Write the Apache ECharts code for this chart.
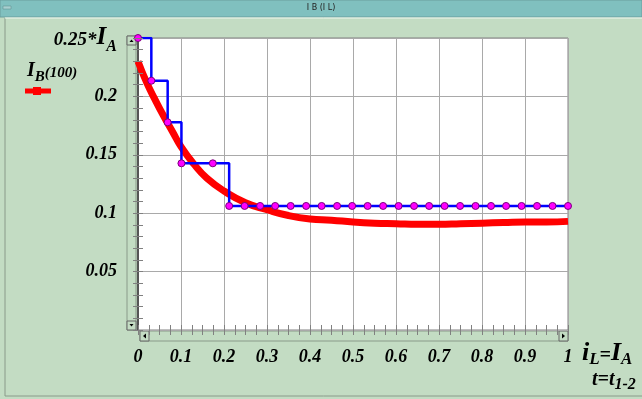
<!DOCTYPE html>
<html>
<head>
<meta charset="utf-8">
<script src="https://cdn.jsdelivr.net/npm/echarts@6/dist/echarts.min.js"></script>
<style>
  html, body { margin: 0; padding: 0; background: #c3dcc3; }
  #chart { width: 642px; height: 399px; }
</style>
</head>
<body>
<div id="chart"></div>
<script>
// step series (blue with magenta dots)
const stepX = [0, 0.031, 0.069, 0.101, 0.174, 0.212, 0.248, 0.284, 0.319, 0.355, 0.391, 0.427,
    0.463, 0.498, 0.534, 0.570, 0.606, 0.642, 0.677, 0.713, 0.749, 0.785, 0.821, 0.856,
    0.892, 0.928, 0.964, 1.0];
const stepY = [0.25, 0.2134, 0.1778, 0.1427, 0.1427, 0.1062, 0.1062, 0.1062, 0.1062, 0.1062,
    0.1062, 0.1062, 0.1062, 0.1062, 0.1062, 0.1062, 0.1062, 0.1062, 0.1062, 0.1062, 0.1062,
    0.1062, 0.1062, 0.1062, 0.1062, 0.1062, 0.1062, 0.1062];

// IB(100) curve (red)
const curveX = [0, 0.02, 0.04, 0.06, 0.08, 0.1, 0.13, 0.16, 0.2, 0.25, 0.3, 0.35, 0.4, 0.45,
    0.5, 0.55, 0.6, 0.65, 0.7, 0.75, 0.8, 0.85, 0.9, 0.95, 1.0];
const curveY = [0.230, 0.212, 0.197, 0.183, 0.170, 0.157, 0.142, 0.130, 0.119, 0.109, 0.103,
    0.098, 0.095, 0.094, 0.0925, 0.0915, 0.091, 0.0905, 0.0905, 0.091, 0.0915, 0.092, 0.0925,
    0.0925, 0.093];

const xTicks = ['0', '0.1', '0.2', '0.3', '0.4', '0.5', '0.6', '0.7', '0.8', '0.9', '1'];
const yTicks = ['', '0.05', '0.1', '0.15', '0.2', '0.25*'];

const serif = '"Liberation Serif", "DejaVu Serif", serif';
const bg = '#c3dcc3';
const gridGrey = '#a9a9a9';

const chart = echarts.init(document.getElementById('chart'));

const labelStyle = {
    fontFamily: serif, fontStyle: 'italic', fontWeight: 'bold', fontSize: 18, color: '#000'
};

// axes that only carry inward tick marks on each side of the plot box
function tickAxis(kind, position, max, interval, split) {
    return {
        type: 'value', min: 0, max: max, interval: interval, position: position,
        axisLine: { show: false },
        axisTick: { show: true, inside: true, length: 5, lineStyle: { color: '#808080' } },
        minorTick: { show: true, splitNumber: split, length: 5, lineStyle: { color: '#808080' } },
        splitLine: { show: false },
        axisLabel: { show: false },
        z: 5
    };
}

chart.setOption({
    backgroundColor: bg,
    animation: false,
    grid: {
        left: 138, right: 74, top: 38, bottom: 69,
        show: true, backgroundColor: '#fff', borderColor: '#808080', borderWidth: 1
    },
    xAxis: [{
        type: 'value', min: 0, max: 1, interval: 0.1,
        axisLine: { show: false },
        axisTick: { show: false },
        splitLine: { show: true, lineStyle: { color: gridGrey, width: 1 } },
        axisLabel: {
            margin: 18, ...labelStyle,
            formatter: v => xTicks[Math.round(v * 10)]
        }
    },
        tickAxis('x', 'top', 1, 0.1, 4),
        tickAxis('x', 'bottom', 1, 0.1, 4)
    ],
    yAxis: [{
        type: 'value', min: 0, max: 0.25, interval: 0.05,
        axisLine: { show: true, lineStyle: { color: '#555', width: 2 } },
        axisTick: { show: false },
        splitLine: { show: true, lineStyle: { color: gridGrey, width: 1 } },
        axisLabel: {
            margin: 21, ...labelStyle,
            formatter: v => {
                const i = Math.round(v / 0.05);
                if (i === 5) return '{a|' + yTicks[i] + '}{b|I}{s|A}';
                return yTicks[i];
            },
            rich: {
                a: { ...labelStyle, fontSize: 19, verticalAlign: 'bottom', lineHeight: 24 },
                b: { ...labelStyle, fontSize: 25, verticalAlign: 'bottom', lineHeight: 24 },
                s: { ...labelStyle, fontSize: 16, verticalAlign: 'bottom', lineHeight: 16, padding: [0, 0, -5, 0] }
            }
        }
    },
        tickAxis('y', 'left', 0.25, 0.05, 5),
        tickAxis('y', 'right', 0.25, 0.05, 5)
    ],
    series: [{
        name: 'IB(100)',
        type: 'line',
        data: curveX.map((x, i) => [x, curveY[i]]),
        smooth: true,
        showSymbol: false,
        lineStyle: { color: '#ff0000', width: 7 },
        z: 2
    }, {
        name: 'step',
        type: 'line',
        step: 'end',
        data: stepX.map((x, i) => [x, stepY[i]]),
        symbol: 'circle',
        symbolSize: 7,
        lineStyle: { color: '#0000ff', width: 2.5 },
        itemStyle: { color: '#ff00ff', borderColor: '#7a007a', borderWidth: 1 },
        z: 3
    }],
    graphic: [
        // window title bar
        { type: 'rect', shape: { x: 0, y: 0, width: 642, height: 17 }, style: { fill: '#80c0bf', stroke: '#6a9e9e' } },
        { type: 'rect', shape: { x: 3, y: 6, width: 8, height: 3 }, style: { fill: '#a8d0d0', stroke: '#5a8a8a', lineWidth: 0.5 } },
        { type: 'text', left: 'center', top: 4, style: { text: 'I B (I L)', font: '8px "DejaVu Sans"', fill: '#222' } },
        { type: 'line', shape: { x1: 5, y1: 18, x2: 5, y2: 396 }, style: { stroke: '#8a9a8a', lineWidth: 1 } },
        { type: 'line', shape: { x1: 5, y1: 18, x2: 642, y2: 18 }, style: { stroke: '#f0f8f0', lineWidth: 1 } },
        { type: 'line', shape: { x1: 5, y1: 396, x2: 642, y2: 396 }, style: { stroke: '#8a9a8a', lineWidth: 1 } },
        // vertical scrollbar
        { type: 'rect', shape: { x: 127, y: 36, width: 9, height: 294 }, style: { fill: bg, stroke: '#8a9a8a', lineWidth: 1 } },
        { type: 'rect', shape: { x: 127, y: 36, width: 9, height: 9 }, style: { fill: bg, stroke: '#666', lineWidth: 1 } },
        { type: 'polygon', shape: { points: [[129.5, 42], [133.5, 42], [131.5, 39.5]] }, style: { fill: '#000' } },
        { type: 'rect', shape: { x: 127, y: 321, width: 9, height: 9 }, style: { fill: bg, stroke: '#666', lineWidth: 1 } },
        { type: 'polygon', shape: { points: [[129.5, 324], [133.5, 324], [131.5, 326.5]] }, style: { fill: '#000' } },
        // horizontal scrollbar
        { type: 'rect', shape: { x: 140, y: 331, width: 428, height: 10 }, style: { fill: bg, stroke: '#8a9a8a', lineWidth: 1 } },
        { type: 'rect', shape: { x: 140, y: 331, width: 9, height: 10 }, style: { fill: bg, stroke: '#666', lineWidth: 1 } },
        { type: 'polygon', shape: { points: [[146, 333.5], [146, 338.5], [143, 336]] }, style: { fill: '#000' } },
        { type: 'rect', shape: { x: 559, y: 331, width: 9, height: 10 }, style: { fill: bg, stroke: '#666', lineWidth: 1 } },
        { type: 'polygon', shape: { points: [[562, 333.5], [562, 338.5], [565, 336]] }, style: { fill: '#000' } },
        // legend
        {
            type: 'text', left: 27, top: 61,
            style: {
                rich: {
                    i: { fontFamily: serif, fontStyle: 'italic', fontWeight: 'bold', fontSize: 20, verticalAlign: 'bottom', lineHeight: 20 },
                    s: { fontFamily: serif, fontStyle: 'italic', fontWeight: 'bold', fontSize: 15, verticalAlign: 'bottom', lineHeight: 15, padding: [0, 0, -4, 0] },
                    p: { fontFamily: serif, fontStyle: 'italic', fontWeight: 'bold', fontSize: 15, verticalAlign: 'bottom', lineHeight: 20 }
                },
                text: '{i|I}{s|B}{p|(100)}', fill: '#000'
            }
        },
        { type: 'line', shape: { x1: 25, y1: 91, x2: 51, y2: 91 }, style: { stroke: '#ff0000', lineWidth: 5 } },
        { type: 'rect', shape: { x: 33, y: 87, width: 8, height: 8 }, style: { fill: '#ff0000' } },
        // x axis name
        {
            type: 'text', left: 582, top: 340,
            style: {
                rich: {
                    i: { fontFamily: serif, fontStyle: 'italic', fontWeight: 'bold', fontSize: 26, verticalAlign: 'bottom', lineHeight: 26 },
                    s: { fontFamily: serif, fontStyle: 'italic', fontWeight: 'bold', fontSize: 17, verticalAlign: 'bottom', lineHeight: 17, padding: [0, 0, -2, 0] },
                    e: { fontFamily: serif, fontStyle: 'italic', fontWeight: 'bold', fontSize: 20, verticalAlign: 'bottom', lineHeight: 26 }
                },
                text: '{i|i}{s|L}{e|=}{i|I}{s|A}', fill: '#000'
            }
        },
        {
            type: 'text', left: 592, top: 370,
            style: {
                rich: {
                    i: { fontFamily: serif, fontStyle: 'italic', fontWeight: 'bold', fontSize: 20, verticalAlign: 'bottom', lineHeight: 20 },
                    s: { fontFamily: serif, fontStyle: 'italic', fontWeight: 'bold', fontSize: 16, verticalAlign: 'bottom', lineHeight: 16, padding: [0, 0, -3, 0] }
                },
                text: '{i|t=t}{s|1-2}', fill: '#000'
            }
        }
    ]
});
</script>
</body>
</html>
